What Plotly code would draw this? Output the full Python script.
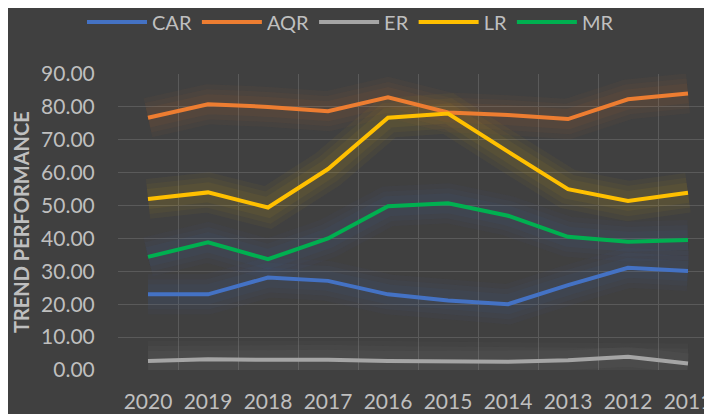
import plotly.graph_objects as go

years = ["2020", "2019", "2018", "2017", "2016", "2015", "2014", "2013", "2012", "2011"]
CAR = [23.0, 23.0, 28.1, 27.1, 23.0, 21.1, 20.0, 25.8, 31.1, 30.1]
AQR = [76.7, 80.8, 80.0, 78.7, 82.9, 78.3, 77.5, 76.3, 82.3, 84.1]
ER = [2.7, 3.3, 3.1, 3.1, 2.7, 2.5, 2.5, 3.0, 4.0, 2.0]
LR = [52.0, 54.0, 49.4, 61.1, 76.7, 78.0, 66.4, 55.0, 51.4, 53.9]
MR = [34.4, 38.8, 33.7, 40.0, 49.8, 50.7, 46.9, 40.5, 39.0, 39.5]
y_ticks = [0, 10, 20, 30, 40, 50, 60, 70, 80, 90]

series = [
    ("CAR", CAR, "#4472C4", "68,114,196"),
    ("AQR", AQR, "#ED7D31", "237,125,49"),
    ("ER", ER, "#A5A5A5", "165,165,165"),
    ("LR", LR, "#FFC000", "255,192,0"),
    ("MR", MR, "#00B050", "68,114,196"),
]
idx = list(range(len(years)))
FONT = "Lato"
GREY = "#BFBFBF"

# page is offset by 8px (body margin): figure coords = reference coords - 8
L, T, PW, PH = 110, 66, 602, 296

fig = go.Figure()
# soft glow layers
for name, vals, col, rgb in series:
    for w, a in ((40, 0.04), (30, 0.045), (20, 0.05)):
        fig.add_trace(go.Scatter(x=idx, y=vals, mode="lines", showlegend=False, hoverinfo="skip",
                                 line=dict(color=f"rgba({rgb},{a})", width=w)))
for name, vals, col, rgb in series:
    fig.add_trace(go.Scatter(x=idx, y=vals, mode="lines", name=name,
                             line=dict(color=col, width=4)))

fig.update_layout(
    width=712, height=414,
    paper_bgcolor="#404040", plot_bgcolor="#404040",
    margin=dict(l=L, r=0, t=T, b=414 - T - PH, autoexpand=False),
    font=dict(family=FONT, color=GREY, size=20),
    showlegend=True,
    legend=dict(orientation="h", x=(82 - 8 - L) / PW, xanchor="left",
                y=1 + (T - 14) / PH, yanchor="middle",
                font=dict(size=20, color=GREY), bgcolor="rgba(0,0,0,0)",
                itemwidth=60, traceorder="normal"),
    xaxis=dict(range=[-0.5, -0.5 + PW / 60], tickmode="array", tickvals=idx, ticktext=years,
               automargin=False,
               showgrid=False, zeroline=False, showline=False,
               ticks="outside", ticklen=13, tickcolor="rgba(0,0,0,0)",
               tickfont=dict(size=21, color=GREY),
               minor=dict(tickmode="array", tickvals=[i - 0.5 for i in range(11)],
                          showgrid=True, gridcolor="#5A5A5A", gridwidth=1.3, ticks="")),
    yaxis=dict(range=[0, 90], tickmode="array", tickvals=y_ticks,
               ticktext=[f"{v:.2f}" for v in y_ticks], automargin=False,
               showgrid=True, gridcolor="#5A5A5A", gridwidth=1.3, zeroline=False, showline=False,
               ticks="outside", ticklen=18, tickcolor="rgba(0,0,0,0)",
               tickfont=dict(size=21, color=GREY)),
    annotations=[dict(text="<b>TREND PERFORMANCE</b>", xref="paper", yref="paper",
                      x=(13 - L) / PW, xanchor="center", y=0.5, yanchor="middle",
                      textangle=-90, showarrow=False,
                      font=dict(size=20, color=GREY, family=FONT))],
)
fig.write_html("out.html")
